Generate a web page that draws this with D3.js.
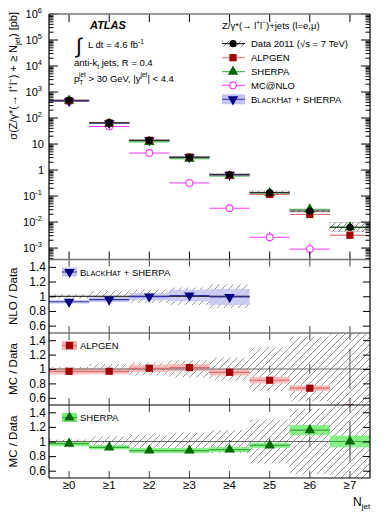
<!DOCTYPE html>
<html>
<head>
<meta charset="utf-8">
<script src="https://cdn.jsdelivr.net/npm/d3@7"></script>
<style>
  body { margin: 0; background: #fff; }
  text { font-family: "Liberation Sans", Arial, sans-serif; fill: #000; }
</style>
</head>
<body>
<div class="chart"></div>
<script>
// Z+jets inclusive jet multiplicity, data vs MC
var svgWidth = 390;
var svgHeight = 520;

var categories = ["≥0", "≥1", "≥2", "≥3", "≥4", "≥5", "≥6", "≥7"];
var dataXsec = [480, 66, 13.8, 3.1, 0.66, 0.136, 0.0265, 0.0063];
var dataUncMain = [0.03, 0.05, 0.06, 0.09, 0.12, 0.15, 0.15, 0.55];
var dataUncRatio = [0.03, 0.07, 0.09, 0.12, 0.16, 0.3, 0.45, 0.8];
var dataStat = [0.002, 0.003, 0.005, 0.01, 0.02, 0.04, 0.07, 0.28];

var alpgen = [465, 64, 13.9, 3.15, 0.63, 0.115, 0.0195, 0.0031];
var sherpa = [466, 61, 12.1, 2.72, 0.59, 0.129, 0.0306, 0.0063];
var blackhat = [444, 63.4, 13.8, 3.13, 0.65];
var mcnlo = [470, 47, 4.5, 0.32, 0.034, 0.0026, 0.00091];
var mcnloLo = [null, null, null, null, null, 0.0017, 0.00055];
var mcnloHi = [null, null, null, null, null, 0.0042, 0.0015];

var blackhatRatio = [0.925, 0.955, 0.995, 1.01, 0.99];
var blackhatRatioErr = [0.025, 0.035, 0.05, 0.08, 0.11];
var alpgenRatio = [0.968, 0.968, 1.01, 1.02, 0.954, 0.844, 0.733, 0.46];
var alpgenRatioErr = [0.045, 0.04, 0.05, 0.05, 0.045, 0.045, 0.04, 0.04];
var sherpaRatio = [0.97, 0.92, 0.876, 0.876, 0.89, 0.947, 1.156, 1.0];
var sherpaRatioErr = [0.035, 0.03, 0.035, 0.035, 0.035, 0.035, 0.07, 0.08];
var sherpaStat = [0, 0, 0, 0, 0, 0.01, 0.07, 0.2];

var mainTicks = [1e-3, 1e-2, 1e-1, 1, 10, 100, 1e3, 1e4, 1e5, 1e6];
var ratioTicks = [0.6, 0.8, 1, 1.2, 1.4];

var colAlp = "#a00000", colAlpBand = "#f8b4b4", colAlpLine = "#e06a6a";
var colShe = "#006600", colSheBand = "#77ee77", colSheLine = "#33aa33";
var colBh = "#000080", colBhBand = "#c4c4f4", colBhLine = "#3333aa";
var colNlo = "#ff33ff";

var left = 49, right = 370, plotTop = 14, mainBottom = 259.5;

var svg = d3.select(".chart")
  .append("svg")
  .attr("width", svgWidth)
  .attr("height", svgHeight);

var defs = svg.append("defs");
function hatch(id, step, color, w) {
  defs.append("pattern")
    .attr("id", id)
    .attr("patternUnits", "userSpaceOnUse")
    .attr("width", step).attr("height", step)
    .append("path")
    .attr("d", "M-1," + (step + 1) + " L" + (step + 1) + ",-1")
    .attr("stroke", color).attr("stroke-width", w);
}
hatch("hatch", 7, "#666", 0.7);
hatch("hatchMain", 6, "#666", 0.8);

var x = d3.scaleLinear().domain([-0.5, 7.5]).range([left, right]);
var yMain = d3.scaleLog().domain([Math.pow(10, -3.44), 1e6]).range([mainBottom, plotTop]);

function clip(id, y0, y1) {
  defs.append("clipPath").attr("id", id)
    .append("rect")
    .attr("x", left).attr("y", y0)
    .attr("width", right - left).attr("height", y1 - y0);
}

function rich(sel, parts) {
  parts.forEach(function(p) {
    var t = sel.append("tspan").text(p.t);
    if (p.s) t.attr("font-size", p.s);
    if (p.dy) t.attr("dy", p.dy);
    if (p.dx) t.attr("dx", p.dx);
  });
  return sel;
}

function marker(g, type, cx, cy, color) {
  if (type == "circle") {
    g.append("circle").attr("cx", cx).attr("cy", cy).attr("r", 3.6).attr("fill", color);
  } else if (type == "open") {
    g.append("circle").attr("cx", cx).attr("cy", cy).attr("r", 3.4)
      .attr("fill", "#fff").attr("stroke", color).attr("stroke-width", 1.1);
  } else if (type == "square") {
    g.append("rect").attr("x", cx - 3.6).attr("y", cy - 3.6)
      .attr("width", 7.2).attr("height", 7.2).attr("fill", color);
  } else if (type == "up" || type == "down") {
    g.append("path")
      .attr("d", d3.symbol().type(d3.symbolTriangle).size(48)())
      .attr("transform", "translate(" + cx + "," + cy + ")" + (type == "down" ? " rotate(180)" : ""))
      .attr("fill", color);
  }
}

// ---------- main panel ----------
clip("clipMain", plotTop, mainBottom);
var main = svg.append("g").attr("clip-path", "url(#clipMain)");
var binW = x(1) - x(0);

function mainSeries(vals, errs, band, line) {
  main.selectAll(null).data(vals).enter().append("rect")
    .attr("x", function(d, i) { return x(i - 0.5); })
    .attr("width", binW)
    .attr("y", function(d, i) { return yMain(d * (1 + errs[i])); })
    .attr("height", function(d, i) { return yMain(d * (1 - errs[i])) - yMain(d * (1 + errs[i])); })
    .attr("fill", band).attr("opacity", 0.7);
  main.selectAll(null).data(vals).enter().append("line")
    .attr("x1", function(d, i) { return x(i - 0.5); })
    .attr("x2", function(d, i) { return x(i + 0.5); })
    .attr("y1", function(d) { return yMain(d); })
    .attr("y2", function(d) { return yMain(d); })
    .attr("stroke", line).attr("stroke-width", 1);
}
mainSeries(alpgen, alpgenRatioErr, colAlpBand, colAlpLine);
mainSeries(sherpa, sherpaRatioErr, colSheBand, colSheLine);
mainSeries(blackhat, blackhatRatioErr, colBhBand, colBhLine);

// data hatched band
main.selectAll(".dband").data(dataXsec).enter().append("rect")
  .attr("x", function(d, i) { return x(i - 0.5); })
  .attr("width", binW)
  .attr("y", function(d, i) { return yMain(d * (1 + dataUncMain[i])); })
  .attr("height", function(d, i) { return yMain(d * (1 - dataUncMain[i] * 0.55)) - yMain(d * (1 + dataUncMain[i])); })
  .attr("fill", "url(#hatchMain)")
  .attr("stroke", "#999").attr("stroke-width", 0.5);

// MC@NLO
main.selectAll(null).data(mcnlo).enter().append("line")
  .attr("x1", function(d, i) { return x(i - 0.5); })
  .attr("x2", function(d, i) { return x(i + 0.5); })
  .attr("y1", function(d) { return yMain(d); })
  .attr("y2", function(d) { return yMain(d); })
  .attr("stroke", colNlo).attr("stroke-width", 1);
mcnlo.forEach(function(d, i) {
  if (mcnloLo[i] != null) {
    main.append("line")
      .attr("x1", x(i)).attr("x2", x(i))
      .attr("y1", yMain(mcnloLo[i])).attr("y2", yMain(mcnloHi[i]))
      .attr("stroke", colNlo).attr("stroke-width", 1);
  }
});

// data line
main.selectAll(null).data(dataXsec).enter().append("line")
  .attr("x1", function(d, i) { return x(i - 0.5); })
  .attr("x2", function(d, i) { return x(i + 0.5); })
  .attr("y1", function(d) { return yMain(d); })
  .attr("y2", function(d) { return yMain(d); })
  .attr("stroke", "#222").attr("stroke-width", 1);

mcnlo.forEach(function(d, i) { marker(main, "open", x(i), yMain(d), colNlo); });
blackhat.forEach(function(d, i) { marker(main, "down", x(i), yMain(d), colBh); });
sherpa.forEach(function(d, i) { marker(main, "up", x(i), yMain(d), colShe); });
alpgen.forEach(function(d, i) { marker(main, "square", x(i), yMain(d), colAlp); });
dataXsec.forEach(function(d, i) { marker(main, "circle", x(i), yMain(d), "#000"); });

// main y ticks (major + minor, both sides)
var minor = [];
for (var e = -4; e < 6; e++) {
  for (var m = 2; m < 10; m++) {
    var v = m * Math.pow(10, e);
    if (v > yMain.domain()[0]) minor.push(v);
  }
}
var tg = svg.append("g").attr("stroke", "#000").attr("stroke-width", 1);
mainTicks.forEach(function(v) {
  tg.append("line").attr("x1", left).attr("x2", left + 9).attr("y1", yMain(v)).attr("y2", yMain(v));
  tg.append("line").attr("x1", right).attr("x2", right - 9).attr("y1", yMain(v)).attr("y2", yMain(v));
});
minor.forEach(function(v) {
  tg.append("line").attr("x1", left).attr("x2", left + 4.5).attr("y1", yMain(v)).attr("y2", yMain(v));
  tg.append("line").attr("x1", right).attr("x2", right - 4.5).attr("y1", yMain(v)).attr("y2", yMain(v));
});
mainTicks.forEach(function(v) {
  var ex = Math.round(Math.log10(v));
  var t = svg.append("text")
    .attr("x", ex <= 1 && ex >= 0 ? 44 : 42)
    .attr("y", yMain(v) + 4)
    .attr("text-anchor", "end")
    .attr("font-size", 11);
  if (ex == 0) t.text("1");
  else if (ex == 1) t.text("10");
  else rich(t, [{ t: "10" }, { t: String(ex), s: 7.5, dy: -5 }]);
});

// x ticks main
categories.forEach(function(c, i) {
  tg.append("line").attr("x1", x(i)).attr("x2", x(i)).attr("y1", mainBottom).attr("y2", mainBottom - 8);
  tg.append("line").attr("x1", x(i)).attr("x2", x(i)).attr("y1", plotTop).attr("y2", plotTop + 8);
});

// ---------- ratio panels ----------
var panels = [
  { id: "nlo", y0: 259.5, y1: 333, label: "NLO / Data", ratio: blackhatRatio, err: blackhatRatioErr,
    band: colBhBand, line: colBhLine, col: colBh, mk: "down", legend: "bh", n: 5, unity: "#000" },
  { id: "alp", y0: 333, y1: 405, label: "MC / Data", ratio: alpgenRatio, err: alpgenRatioErr,
    band: colAlpBand, line: colAlpLine, col: colAlp, mk: "square", legend: "ALPGEN", n: 8, unity: "#666" },
  { id: "she", y0: 405, y1: 478, label: "MC / Data", ratio: sherpaRatio, err: sherpaRatioErr,
    band: colSheBand, line: colSheLine, col: colShe, mk: "up", legend: "SHERPA", n: 8, unity: "#666", stat: sherpaStat }
];

panels.forEach(function(p) {
  var y = d3.scaleLinear().domain([0.5, 1.5]).range([p.y1, p.y0]);
  clip("clip_" + p.id, p.y0, p.y1);
  var g = svg.append("g").attr("clip-path", "url(#clip_" + p.id + ")");
  var idx = d3.range(p.n);

  // data uncertainty hatch
  g.selectAll(null).data(idx).enter().append("rect")
    .attr("x", function(i) { return x(i - 0.5); })
    .attr("width", binW)
    .attr("y", function(i) { return y(1 + dataUncRatio[i]); })
    .attr("height", function(i) { return y(1 - dataUncRatio[i]) - y(1 + dataUncRatio[i]); })
    .attr("fill", "url(#hatch)");

  // MC band
  g.selectAll(null).data(p.ratio).enter().append("rect")
    .attr("x", function(d, i) { return x(i - 0.5); })
    .attr("width", binW)
    .attr("y", function(d, i) { return y(d + p.err[i]); })
    .attr("height", function(d, i) { return y(d - p.err[i]) - y(d + p.err[i]); })
    .attr("fill", p.band).attr("opacity", 0.85);

  // unity line
  g.append("line")
    .attr("x1", left).attr("x2", x(p.n - 0.5))
    .attr("y1", y(1)).attr("y2", y(1))
    .attr("stroke", p.unity).attr("stroke-width", 1);

  g.selectAll(null).data(p.ratio).enter().append("line")
    .attr("x1", function(d, i) { return x(i - 0.5); })
    .attr("x2", function(d, i) { return x(i + 0.5); })
    .attr("y1", function(d) { return y(d); })
    .attr("y2", function(d) { return y(d); })
    .attr("stroke", p.line).attr("stroke-width", 1.2);

  if (p.id != "nlo") {
    idx.forEach(function(i) {
      if (dataStat[i] > 0.01) {
        g.append("line").attr("x1", x(i)).attr("x2", x(i))
          .attr("y1", y(1 - dataStat[i])).attr("y2", y(1 + dataStat[i]))
          .attr("stroke", "#555").attr("stroke-width", 1);
      }
      if (p.stat && p.stat[i] > 0.01) {
        g.append("line").attr("x1", x(i)).attr("x2", x(i))
          .attr("y1", y(p.ratio[i] - p.stat[i])).attr("y2", y(p.ratio[i] + p.stat[i]))
          .attr("stroke", "#777").attr("stroke-width", 1);
      }
    });
  }

  p.ratio.forEach(function(d, i) { marker(g, p.mk, x(i), y(d), p.col); });

  // y axis left
  var ax = svg.append("g")
    .attr("transform", "translate(" + left + ",0)")
    .call(d3.axisLeft(y).tickValues(ratioTicks).tickSize(-7).tickPadding(3)
      .tickFormat(function(d) { return d == 1 ? "1" : d3.format(".1f")(d); }));
  ax.select(".domain").remove();
  ax.selectAll("text").attr("font-size", 12).attr("font-family", "Liberation Sans, Arial, sans-serif");
  var axr = svg.append("g")
    .attr("transform", "translate(" + right + ",0)")
    .call(d3.axisRight(y).tickValues(ratioTicks).tickSize(-7).tickFormat(""));
  axr.select(".domain").remove();

  // x ticks
  categories.forEach(function(c, i) {
    svg.append("line").attr("x1", x(i)).attr("x2", x(i)).attr("y1", p.y1).attr("y2", p.y1 - 7)
      .attr("stroke", "#444");
    svg.append("line").attr("x1", x(i)).attr("x2", x(i)).attr("y1", p.y0).attr("y2", p.y0 + 7)
      .attr("stroke", "#444");
  });

  // y title
  svg.append("text")
    .attr("transform", "translate(17," + ((p.y0 + p.y1) / 2) + ") rotate(-90)")
    .attr("text-anchor", "middle")
    .attr("font-size", 11.5)
    .text(p.label);

  // legend
  var ly = p.y0 + 12.5;
  svg.append("rect").attr("x", 62).attr("y", ly - 4.5).attr("width", 15).attr("height", 9).attr("fill", p.band);
  svg.append("line").attr("x1", 62).attr("x2", 77).attr("y1", ly).attr("y2", ly).attr("stroke", p.line);
  marker(svg, p.mk, 69.5, ly, p.col);
  var lt = svg.append("text").attr("x", 80).attr("y", ly + 3.5).attr("font-size", 9.5);
  if (p.legend == "bh") {
    rich(lt, [{ t: "B" }, { t: "LACK", s: 7.3 }, { t: "H", s: 9.5 }, { t: "AT", s: 7.3 }, { t: " + SHERPA", s: 9.5 }]);
  } else {
    lt.text(p.legend);
  }
});

// ---------- frames ----------
svg.append("line").attr("x1", left).attr("x2", right).attr("y1", plotTop).attr("y2", plotTop).attr("stroke", "#777").attr("stroke-width", 1.3);
svg.append("line").attr("x1", left).attr("x2", right).attr("y1", 259.5).attr("y2", 259.5).attr("stroke", "#777").attr("stroke-width", 1.5);
svg.append("line").attr("x1", left).attr("x2", right).attr("y1", 333).attr("y2", 333).attr("stroke", "#777").attr("stroke-width", 1.5);
svg.append("line").attr("x1", left).attr("x2", right).attr("y1", 405).attr("y2", 405).attr("stroke", "#000").attr("stroke-width", 1.2);
svg.append("line").attr("x1", left).attr("x2", right).attr("y1", 478).attr("y2", 478).attr("stroke", "#000").attr("stroke-width", 1.2);
svg.append("line").attr("x1", left).attr("x2", left).attr("y1", plotTop).attr("y2", 478).attr("stroke", "#000").attr("stroke-width", 1.2);
svg.append("line").attr("x1", right).attr("x2", right).attr("y1", plotTop).attr("y2", 478).attr("stroke", "#000").attr("stroke-width", 1.2);

// x labels
svg.selectAll(".xl").data(categories).enter().append("text")
  .attr("x", function(d, i) { return x(i); })
  .attr("y", 489)
  .attr("text-anchor", "middle")
  .attr("font-size", 11.5)
  .text(function(d) { return d; });
rich(svg.append("text").attr("x", 353).attr("y", 506).attr("font-size", 12),
  [{ t: "N" }, { t: "jet", s: 8, dy: 3 }]);

// main y title
rich(svg.append("text")
  .attr("transform", "translate(17,12) rotate(-90)")
  .attr("text-anchor", "end")
  .attr("font-size", 11),
  [{ t: "σ(Z/γ*(→ l" }, { t: "+", s: 7.5, dy: -4 }, { t: "l", s: 11, dy: 4 }, { t: "−", s: 7.5, dy: -4 },
   { t: ") + ≥ N", s: 11, dy: 4 }, { t: "jet", s: 7.5, dy: 3 }, { t: ") [pb]", s: 11, dy: -3 }]);

// ---------- labels ----------
svg.append("text").attr("x", 90).attr("y", 29)
  .attr("font-size", 11).attr("font-weight", "bold").attr("font-style", "italic")
  .text("ATLAS");
svg.append("text").attr("x", 76).attr("y", 53).attr("font-size", 21).text("∫");
rich(svg.append("text").attr("x", 88).attr("y", 48).attr("font-size", 9.5),
  [{ t: "L dt = 4.6 fb" }, { t: "-1", s: 6.5, dy: -4 }]);
rich(svg.append("text").attr("x", 74).attr("y", 66).attr("font-size", 9.5),
  [{ t: "anti-k" }, { t: "t", s: 6.5, dy: 2.5 }, { t: " jets, R = 0.4", s: 9.5, dy: -2.5 }]);
rich(svg.append("text").attr("x", 74).attr("y", 82).attr("font-size", 9.5),
  [{ t: "p" }, { t: "T", s: 6.5, dy: 3 }, { t: "jet", s: 6.5, dy: -8, dx: -4.3 },
   { t: " > 30 GeV, |y", s: 9.5, dy: 5 }, { t: "jet", s: 6.5, dy: -5 }, { t: "| < 4.4", s: 9.5, dy: 5 }]);

// main legend
var lg = svg.append("g");
rich(lg.append("text").attr("x", 222).attr("y", 28.5).attr("font-size", 9.5),
  [{ t: "Z/γ*(→ l" }, { t: "+", s: 6.5, dy: -4 }, { t: "l", s: 9.5, dy: 4 }, { t: "−", s: 6.5, dy: -4 },
   { t: ")+jets (l=e,μ)", s: 9.5, dy: 4 }]);
var rows = [
  { name: "data", y: 43.7 }, { name: "ALPGEN", y: 57.7 }, { name: "SHERPA", y: 71.7 },
  { name: "MC@NLO", y: 85.3 }, { name: "bh", y: 99.3 }
];
rows.forEach(function(r) {
  var cx = 233, y = r.y;
  if (r.name == "data") {
    lg.append("rect").attr("x", 222).attr("y", y - 3).attr("width", 23).attr("height", 6).attr("fill", "url(#hatchMain)");
    lg.append("line").attr("x1", 222).attr("x2", 245).attr("y1", y).attr("y2", y).attr("stroke", "#000");
    marker(lg, "circle", cx, y, "#000");
    lg.append("text").attr("x", 251).attr("y", y + 3.5).attr("font-size", 9.5).text("Data 2011 (√s = 7 TeV)");
  } else if (r.name == "ALPGEN") {
    lg.append("line").attr("x1", 222).attr("x2", 245).attr("y1", y).attr("y2", y).attr("stroke", colAlpLine);
    marker(lg, "square", cx, y, colAlp);
    lg.append("text").attr("x", 251).attr("y", y + 3.5).attr("font-size", 9.5).text("ALPGEN");
  } else if (r.name == "SHERPA") {
    lg.append("line").attr("x1", 222).attr("x2", 245).attr("y1", y).attr("y2", y).attr("stroke", colSheLine);
    marker(lg, "up", cx, y, colShe);
    lg.append("text").attr("x", 251).attr("y", y + 3.5).attr("font-size", 9.5).text("SHERPA");
  } else if (r.name == "MC@NLO") {
    lg.append("line").attr("x1", 222).attr("x2", 245).attr("y1", y).attr("y2", y).attr("stroke", colNlo);
    marker(lg, "open", cx, y, colNlo);
    lg.append("text").attr("x", 251).attr("y", y + 3.5).attr("font-size", 9.5).text("MC@NLO");
  } else {
    lg.append("rect").attr("x", 222).attr("y", y - 5).attr("width", 23).attr("height", 10).attr("fill", colBhBand);
    lg.append("line").attr("x1", 222).attr("x2", 245).attr("y1", y).attr("y2", y).attr("stroke", colBhLine);
    marker(lg, "down", cx, y, colBh);
    rich(lg.append("text").attr("x", 251).attr("y", y + 3.5).attr("font-size", 9.5),
      [{ t: "B" }, { t: "LACK", s: 7.3 }, { t: "H", s: 9.5 }, { t: "AT", s: 7.3 }, { t: " + SHERPA", s: 9.5 }]);
  }
});
</script>
</body>
</html>
